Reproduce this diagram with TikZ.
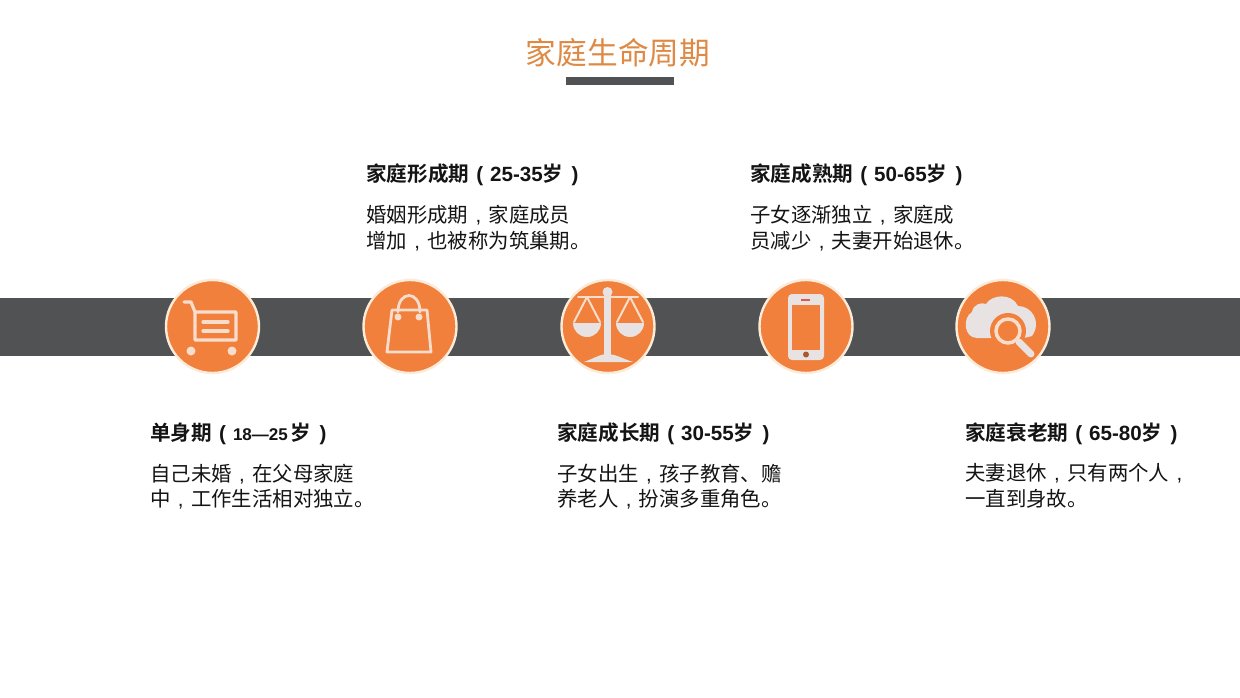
\documentclass[tikz,border=0pt]{standalone}
\usepackage{fontspec}
\setmainfont{Noto Sans CJK SC}
\newfontfamily\cjkb{Noto Sans CJK SC}[BoldFont={Noto Sans CJK SC Bold}]
\newfontfamily\latb{Liberation Sans Bold}
\newfontfamily\latr{Liberation Sans}
\definecolor{orangeA}{HTML}{F0803C}
\definecolor{titleO}{HTML}{DE8A45}
\definecolor{barG}{HTML}{505254}
\definecolor{ringC}{HTML}{FBEBD8}
\definecolor{iconW}{HTML}{F8DDCC}
\definecolor{iconG}{HTML}{E8E3E2}
\definecolor{textK}{HTML}{141414}
\tikzset{
  x=1pt,y=-1pt,
  disc/.style={circle,draw=ringC,line width=2.4pt,fill=orangeA,minimum size=93pt,inner sep=0pt},
  head/.style={anchor=west,inner sep=0pt,text=textK,font=\fontsize{20.6}{24}\selectfont\bfseries},
  bodyt/.style={anchor=north west,inner sep=0pt,text=textK,align=left,font=\fontsize{20.4}{25.5}\selectfont},
  ico/.style={draw=iconW,line width=3.2pt,line cap=round,line join=round},
  icof/.style={fill=iconW},
  icog/.style={fill=iconG},
}
\newcommand{\cm}{\makebox[20.4pt][c]{\latr ,}}
\newcommand{\hd}[2]{{\cjkb\textbf{#1}}\makebox[21pt][c]{\latb(}{\latb #2}{\cjkb\textbf{岁}}\makebox[15pt][r]{\latb)}}
\begin{document}
\begin{tikzpicture}
\useasboundingbox (0,0) rectangle (1240,698);
\fill[white] (0,0) rectangle (1240,698);
\node[anchor=center,inner sep=0pt,text=titleO,font=\fontsize{30.7}{34}\selectfont] (title) at (618,53) {家庭生命周期};
\fill[barG] (566,77) rectangle (674,85);
\fill[barG] (0,298) rectangle (1240,356);
\node[disc] (c1) at (212.5,326.5) {};
\node[disc] (c2) at (410,326.5) {};
\node[disc] (c3) at (608,326.5) {};
\node[disc] (c4) at (806,326.5) {};
\node[disc] (c5) at (1003,326.5) {};
% cart
\draw[ico] (184,302) -- (191,302) -- (195,312) -- (195,340) -- (236,340) -- (236,312) -- (195,312);
\draw[ico] (203,322) -- (228,322) (203,331) -- (228,331);
\fill[icof] (191,351) circle (4.5) (232,351) circle (4.5);
% bag
\draw[ico,line width=2.8pt] (392,310) -- (427,310) -- (431,352) -- (387,352) -- cycle;
\draw[ico,line width=2.8pt] (398,312) .. controls (398,290) and (420,290) .. (420,312);
\fill[icof] (398,317) circle (3.5) (419,317) circle (3.5);
% scales
\fill[icog] (604,291) rectangle (611,358);
\fill[icog] (607.5,292) circle (5);
\fill[icog] (584,362) .. controls (595,358) and (600,354) .. (607.5,354) .. controls (615,354) and (621,358) .. (633,362) -- cycle;
\draw[ico,draw=iconW,line width=2pt] (578,297) -- (638,297);
\draw[ico,draw=iconW,line width=2pt] (574,322) -- (587,297) -- (600,322) (617,322) -- (630,297) -- (643,322);
\fill[icog] (573,323) arc[start angle=180,end angle=0,radius=14] -- cycle;
\fill[icog] (616,323) arc[start angle=180,end angle=0,radius=14] -- cycle;
% phone
\fill[icog,rounded corners=4pt] (788,294) rectangle (824,360);
\fill[orangeA] (792,305) rectangle (820,350);
\draw[orangeA!70!purple,line width=1.8pt] (801,300) -- (810,300);
\fill[orangeA!70!black] (806,354.5) circle (3);
% cloud and lens
\fill[icog] (977,338) .. controls (964,338) and (962,318) .. (972,312)
  .. controls (973,304) and (982,302) .. (986,304)
  .. controls (992,294) and (1012,293) .. (1018,306)
  .. controls (1032,306) and (1042,322) .. (1032,336)
  -- (1024,338) -- cycle;
\fill[orangeA] (1008,331) circle (18);
\draw[draw=orangeA,line width=11pt,line cap=round] (1019,342) -- (1031,354);
\draw[draw=iconG,line width=7pt,line cap=round] (1019,342) -- (1031,354);
\draw[draw=iconW,line width=3.5pt] (1008,331) circle (12);
% texts
\node[head] (h2) at (366,175) {\hd{家庭形成期}{25-35}};
\node[bodyt] (b2) at (366,205) {婚姻形成期\cm 家庭成员\\增加\cm 也被称为筑巢期。};
\node[head] (h4) at (750,175) {\hd{家庭成熟期}{50-65}};
\node[bodyt] (b4) at (750,205) {子女逐渐独立\cm 家庭成\\员减少\cm 夫妻开始退休。};
\node[head] (h1) at (150,434) {\hd{单身期}{\fontsize{17}{20}\selectfont 18—25\kern3pt}};
\node[bodyt] (b1) at (150,463.5) {自己未婚\cm 在父母家庭\\中\cm 工作生活相对独立。};
\node[head] (h3) at (557,434) {\hd{家庭成长期}{30-55}};
\node[bodyt] (b3) at (557,463.5) {子女出生\cm 孩子教育、赡\\养老人\cm 扮演多重角色。};
\node[head] (h5) at (965,434) {\hd{家庭衰老期}{65-80}};
\node[bodyt] (b5) at (965,463.5) {夫妻退休\cm 只有两个人\cm \\一直到身故。};
\end{tikzpicture}
\end{document}
